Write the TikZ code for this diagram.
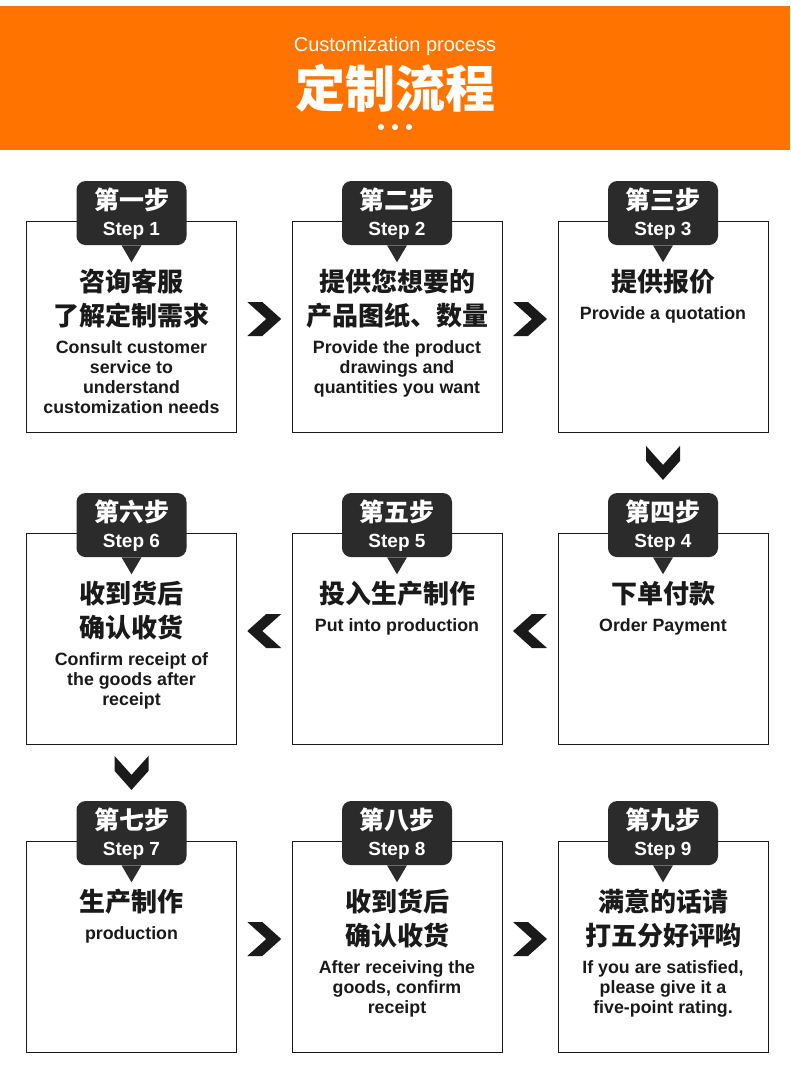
\documentclass[tikz,border=0pt]{standalone}
\usepackage{fontspec}
\setmainfont{Liberation Sans}
\newfontfamily\cjk{Noto Sans CJK SC}
\usetikzlibrary{calc,positioning}
\definecolor{headorange}{HTML}{FF7300}
\definecolor{tagdark}{HTML}{2B2B2B}
\definecolor{inkdark}{HTML}{1A1A1A}

\begin{document}
\begin{tikzpicture}[x=1pt,y=-1pt,
  card/.style={draw=inkdark,line width=0.9pt,fill=white,minimum width=210pt,minimum height=211pt,inner sep=0pt},
  tagbox/.style={fill=tagdark,rounded corners=9pt,minimum width=110pt,minimum height=64pt,inner sep=0pt},
  zhline/.style={text=inkdark,align=center,inner sep=0pt,font=\cjk\bfseries\fontsize{26}{34}\selectfont},
  enline/.style={text=inkdark,align=center,inner sep=0pt,font=\bfseries\fontsize{17.8}{20}\selectfont},
  chevron/.style={fill=inkdark}]
  \useasboundingbox (0,0) rectangle (790,1073);
  \fill[white] (0,0) rectangle (790,1073);
  \fill[headorange] (0,6) rectangle (790,150);
  \node[text=white,font=\fontsize{20}{22}\selectfont] (subtitle) at (395,46.5) {Customization process};
  \node[text=white,font=\cjk\bfseries\fontsize{50}{56}\selectfont] (title) at (395,88) {定制流程};
  \foreach \dx in {-14,0,14}
    \fill[white] (395+\dx,127) circle (3pt);
  \foreach \n/\px/\py/\tagtext/\cntext/\entext in {
      1/131.5/327/第一步/{咨询客服\\了解定制需求}/{Consult customer\\service to\\understand\\customization needs},
      2/397/327/第二步/{提供您想要的\\产品图纸、数量}/{Provide the product\\drawings and\\quantities you want},
      3/663/327/第三步/{提供报价}/{Provide a quotation},
      4/663/639/第四步/{下单付款}/{Order Payment},
      5/397/639/第五步/{投入生产制作}/{Put into production},
      6/131.5/639/第六步/{收到货后\\确认收货}/{Confirm receipt of\\the goods after\\receipt},
      7/131.5/947/第七步/{生产制作}/{production},
      8/397/947/第八步/{收到货后\\确认收货}/{After receiving the\\goods, confirm\\receipt},
      9/663/947/第九步/{满意的话请\\打五分好评哟}/{If you are satisfied,\\please give it a\\five-point rating.}}{
    \node[card] (box\n) at (\px,\py) {};
    \node[tagbox] (tag\n) at ($(box\n.north)+(0,-8)$) {};
    \fill[tagdark] ($(tag\n.south)+(-10,0)$) -- ($(tag\n.south)+(10,0)$) -- ($(tag\n.south)+(0,17)$) -- cycle;
    \node[text=white,font=\cjk\bfseries\fontsize{25}{28}\selectfont] (tagzh\n) at ($(tag\n.center)+(0,-13)$) {\tagtext};
    \node[text=white,font=\bfseries\fontsize{19}{22}\selectfont] (tagen\n) at ($(tag\n.center)+(0,18)$) {Step \n};
    \node[zhline,anchor=north] (zh\n) at ($(box\n.north)+(0,48)$) {\cntext};
    \node[enline,below=12pt of zh\n] (en\n) {\entext};
  }
  \foreach \a/\b/\ang in {box1/box2/0,box2/box3/0,box4/box5/180,box5/box6/180,box7/box8/0,box8/box9/0}
    \fill[chevron,shift={($(\a.center)!0.5!(\b.center)+(0,-8)$)},rotate=\ang]
      (-17pt,17pt) -- (-2pt,17pt) -- (17pt,0pt) -- (-2pt,-17pt) -- (-17pt,-17pt) -- (2pt,0pt) -- cycle;
  \foreach \a/\b in {box3/tag4,box6/tag7}
    \fill[chevron,shift={($(\a.south)!0.5!(\b.north)$)},rotate=-90]
      (-17pt,17pt) -- (-2pt,17pt) -- (17pt,0pt) -- (-2pt,-17pt) -- (-17pt,-17pt) -- (2pt,0pt) -- cycle;
\end{tikzpicture}
\end{document}
